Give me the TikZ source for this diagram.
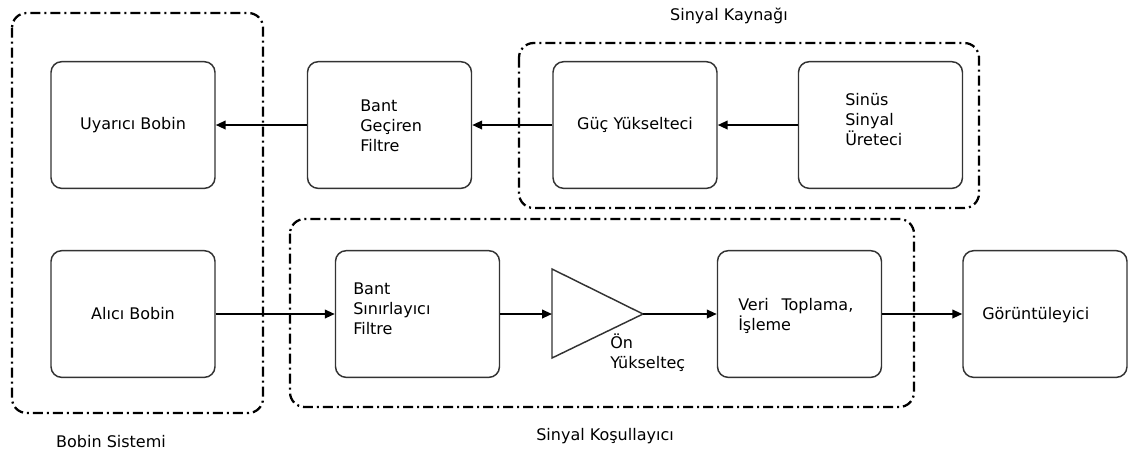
\documentclass[tikz,border=0pt]{standalone}
\usepackage{fontspec}
\setmainfont{DejaVu Sans}
\usetikzlibrary{arrows.meta}
\tikzset{
  blok/.style={draw=black!80, line width=1.1pt, rounded corners=8pt, minimum width=123pt, minimum height=95pt, inner sep=0pt, font=\fontsize{12}{15}\selectfont},
  yazi/.style={inner sep=0pt, align=left, font=\fontsize{12}{15}\selectfont},
  grup/.style={draw=black, line width=1.7pt, rounded corners=11pt, dash pattern=on 7.5pt off 3pt on 1.5pt off 3pt},
  ok/.style={line width=1.4pt, -{Triangle[length=7.5pt,width=6.5pt]}},
}
\begin{document}
\begin{tikzpicture}[x=0.75pt,y=0.75pt,yscale=-1,xscale=1]
\useasboundingbox (0,0) rectangle (1128,455);

%Group frames
\draw [grup] (12,13) rectangle (263,413);
\draw [grup] (519,43) rectangle (979,208);
\draw [grup] (290,219) rectangle (914,407);

% Upper row
\node [blok] (uyarici) at (133,125) {Uyarıcı Bobin};
\node [blok] (bgf) at (389.5,125) {};
\node [blok] (guc) at (635,125) {Güç Yükselteci};
\node [blok] (sinus) at (880.5,125) {};

% Lower row
\node [blok] (alici) at (133,314) {Alıcı Bobin};
\node [blok] (bsf) at (417.5,314) {};
\node [blok] (veri) at (799.5,314) {};
\node [blok] (goruntu) at (1045,314) {};

% Amplifier
\draw [line width=1.1pt, draw=black!80] (552,269) -- (643,314) -- (552,358) -- cycle;
\coordinate (ampin) at (552,314);
\coordinate (ampout) at (643,314);

% Text Node
\node [yazi, anchor=west] (bgftxt) at (360,126) {Bant\\Geçiren\\Filtre};
\node [yazi, anchor=west] (sinustxt) at (845,120) {Sinüs\\Sinyal\\Üreteci};
\node [yazi, anchor=west] (bsftxt) at (353,309) {Bant\\Sınırlayıcı\\Filtre};
\node [yazi, anchor=west] (veritxt) at (738,316) {Veri\hspace{0.8em}Toplama,\\İşleme};
\node [yazi, anchor=west] (goruntutxt) at (982,315) {Görüntüleyici};
\node [yazi, anchor=west] (amptxt) at (610,353) {Ön\\Yükselteç};

% Group labels
\node [yazi] (kaynak) at (729,16) {Sinyal Kaynağı};
\node [yazi] (bobin) at (111,442) {Bobin Sistemi};
\node [yazi] (kosul) at (605,436) {Sinyal Koşullayıcı};

% Arrows
\draw [ok] (sinus) -- (guc);
\draw [ok] (guc) -- (bgf);
\draw [ok] (bgf) -- (uyarici);
\draw [ok] (alici) -- (bsf);
\draw [ok] (bsf) -- (ampin);
\draw [ok] (ampout) -- (veri);
\draw [ok] (veri) -- (goruntu);

\end{tikzpicture}
\end{document}
